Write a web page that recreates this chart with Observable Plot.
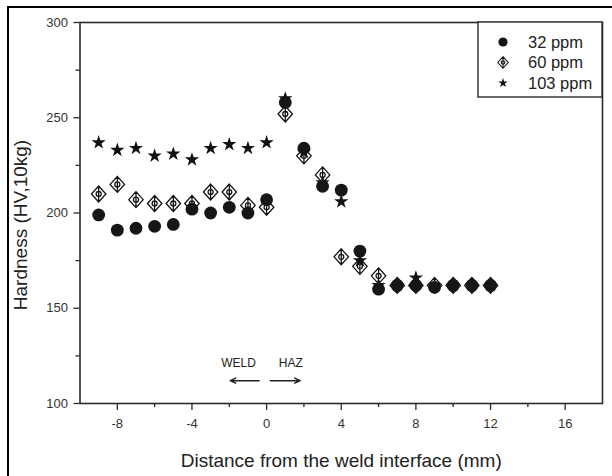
<!DOCTYPE html>
<html><head><meta charset="utf-8">
<script src="https://cdn.jsdelivr.net/npm/d3@7"></script>
<script src="https://cdn.jsdelivr.net/npm/@observablehq/plot@0.6"></script>
<style>
html,body{margin:0;padding:0;background:#fff;overflow:hidden;}
#wrap{position:relative;width:612px;height:476px;overflow:hidden;background:#fff;}
#border{position:absolute;left:7px;top:6px;width:700px;height:600px;border:2.5px solid #000;box-sizing:border-box;pointer-events:none;}
#chart{position:absolute;left:0;top:0;}
</style></head><body>
<div id="wrap"><div id="chart"></div><div id="border"></div></div>
<script>
// ---- data ----
const distance = [-9,-8,-7,-6,-5,-4,-3,-2,-1,0,1,2,3,4,5,6,7,8,9,10,11,12];
const ppm32  = [199,191,192,193,194,202,200,203,200,207,258,234,214,212,180,160,162,162,161,162,162,162];
const ppm60  = [210,215,207,205,205,205,211,211,204,203,252,230,220,177,172,167,162,162,162,162,162,162];
const ppm103 = [237,233,234,230,231,228,234,236,234,237,260,232,216,206,175,162,162,166,162,162,162,162];
const seriesNames = ["32 ppm","60 ppm","103 ppm"];

const xTicks = [-8,-4,0,4,8,12,16];
const xMinorTicks = [-6,-2,2,6,10,14];
const yTicks = [100,150,200,250,300];
const yMinorTicks = [125,175,225,275];

const xLabel = "Distance from the weld interface (mm)";
const yLabel = "Hardness (HV,10kg)";

const zoneLabels = ["WELD","HAZ"];
const zoneLabelX = [-1.5, 1.3];
const zoneLabelY = [121, 121];
const zoneArrowFrom = [-0.4, 0.2];
const zoneArrowTo = [-1.95, 1.8];
const zoneArrowY = [112, 112];

// ---- tables ----
const rows32 = distance.map((d,i)=>({x:d, y:ppm32[i]}));
const rows60 = distance.map((d,i)=>({x:d, y:ppm60[i]}));
const rows103 = distance.map((d,i)=>({x:d, y:ppm103[i]}));
const zoneText = zoneLabels.map((t,i)=>({t, x:zoneLabelX[i], y:zoneLabelY[i]}));
const zoneArrows = zoneLabels.map((t,i)=>({x1:zoneArrowFrom[i], x2:zoneArrowTo[i], y:zoneArrowY[i]}));

const diamondBar = {
  draw(ctx, size) {
    const r = Math.sqrt(size/Math.PI);
    const w = r*0.95, h = r*1.05;
    ctx.moveTo(0,-h); ctx.lineTo(w,0); ctx.lineTo(0,h); ctx.lineTo(-w,0); ctx.closePath();
    ctx.moveTo(0,-h); ctx.lineTo(0,h);
    const c = r*0.33;
    ctx.moveTo(c,0); ctx.arc(0,0,c,0,2*Math.PI);
  }
};

const W = 612, H = 476, mL = 79.5, mR = 10, mT = 22, mB = 73;
const ink = "#2a2a2a";
const plainFormat = d => String(d);

const chart = Plot.plot({
  width: W, height: H,
  marginLeft: mL, marginRight: mR, marginTop: mT, marginBottom: mB,
  x: {domain: [-10, 18]},
  y: {domain: [100, 300]},
  style: {fontFamily: "'Liberation Sans', Arial, sans-serif", background: "transparent", color: ink},
  marks: [
    Plot.axisX(xTicks, {tickSize: 7, tickPadding: 8, fontSize: 13, label: null, tickFormat: plainFormat, stroke: ink, strokeWidth: 1.3, fill: "#333"}),
    Plot.axisX(xMinorTicks, {tickSize: 4, tickFormat: () => "", label: null, stroke: ink, strokeWidth: 1.3}),
    Plot.axisY(yTicks, {tickSize: 6, tickPadding: 6, fontSize: 13, label: null, tickFormat: plainFormat, stroke: ink, strokeWidth: 1.3, fill: "#333"}),
    Plot.axisY(yMinorTicks, {tickSize: 4, tickFormat: () => "", label: null, stroke: ink, strokeWidth: 1.3}),
    Plot.frame({stroke: ink, strokeWidth: 1.6}),
    Plot.text([xLabel], {frameAnchor: "bottom", textAnchor: "middle", lineAnchor: "middle", dy: 57, fontSize: 19, fill: "#222"}),
    Plot.text([yLabel], {frameAnchor: "left", textAnchor: "middle", lineAnchor: "middle", rotate: -90, dx: -59, dy: 12, fontSize: 19, fill: "#222"}),
    Plot.text(zoneText, {x: "x", y: "y", text: "t", fontSize: 12, fill: "#222"}),
    Plot.arrow(zoneArrows, {x1: "x1", x2: "x2", y1: "y", y2: "y", stroke: "#222", strokeWidth: 1.5, headLength: 6, headAngle: 50}),
    Plot.dot(rows60, {x: "x", y: "y", symbol: diamondBar, r: 7.6, fill: "white", stroke: "#111", strokeWidth: 1.3}),
    Plot.dot(rows103, {x: "x", y: "y", symbol: "star", r: 4.5, fill: "#111", stroke: "none"}),
    Plot.dot(rows32, {x: "x", y: "y", r: 6.4, fill: "#161616", stroke: "none"})
  ]
});
document.getElementById("chart").appendChild(chart);

// ---- legend (inside plot, top-right) ----
const svg = d3.select(chart.tagName.toLowerCase() === "svg" ? chart : chart.querySelector("svg"));
const lw = 124, lh = 75;
const lx = W - mR - lw, ly = mT;
const lg = svg.append("g").attr("text-anchor", "start");
lg.append("rect").attr("x", lx).attr("y", ly).attr("width", lw).attr("height", lh)
  .attr("fill", "white").attr("stroke", ink).attr("stroke-width", 1.4);
const legendSymbols = [
  {sym: d3.symbolCircle, size: Math.PI*4.6*4.6, fill: "#161616", stroke: "none"},
  {sym: diamondBar, size: Math.PI*5.5*5.5, fill: "white", stroke: "#111"},
  {sym: d3.symbolStar, size: Math.PI*3*3, fill: "#111", stroke: "none"}
];
seriesNames.forEach((name, i) => {
  const cy = ly + 20 + i*20.5;
  const s = legendSymbols[i];
  lg.append("path").attr("d", d3.symbol(s.sym, s.size)())
    .attr("transform", `translate(${lx+25},${cy})`)
    .attr("fill", s.fill).attr("stroke", s.stroke).attr("stroke-width", 1.1);
  lg.append("text").attr("x", lx + 50).attr("y", cy).attr("dy", "0.35em")
    .attr("text-anchor", "start")
    .attr("font-size", 16.5).attr("fill", "#222").text(name);
});
</script>
</body></html>
